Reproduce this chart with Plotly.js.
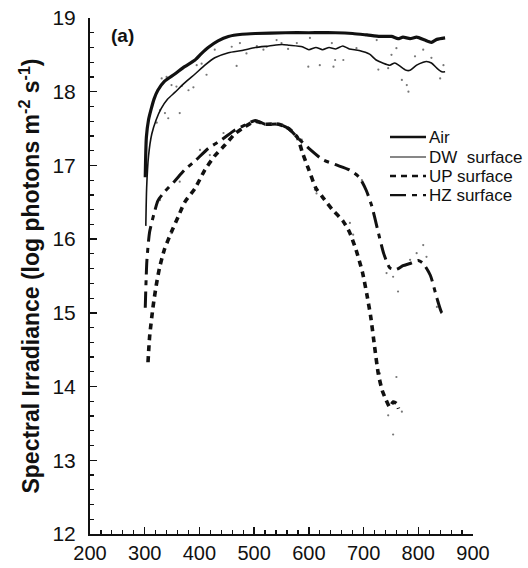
<!DOCTYPE html>
<html>
<head>
<meta charset="utf-8">
<script src="https://cdn.plot.ly/plotly-3.0.1.min.js"></script>
<style>html,body{margin:0;padding:0;background:#fff;}#chart{width:528px;height:568px;}</style>
</head>
<body>
<div id="chart"></div>
<script>
// ---- data (wavelength nm, log photons m-2 s-1) ----
var seriesNames = ["Air", "DW  surface", "UP surface", "HZ surface"];

var airX = [301, 303, 307, 312, 317, 324, 336, 355, 373, 392, 404, 416, 434, 453, 478, 502, 557, 600, 649, 680, 706, 730, 751, 763, 772, 785, 797, 812, 824, 834, 849];
var airY = [16.84, 17.38, 17.62, 17.77, 17.9, 18.02, 18.14, 18.24, 18.34, 18.43, 18.52, 18.6, 18.69, 18.75, 18.78, 18.79, 18.80, 18.80, 18.80, 18.79, 18.77, 18.75, 18.75, 18.72, 18.74, 18.72, 18.74, 18.70, 18.67, 18.71, 18.73];

var dwX = [302, 303.5, 307, 313, 321, 330, 342, 355, 373, 392, 410, 428, 453, 478, 502, 527, 551, 564, 588, 600, 613, 625, 637, 649, 662, 674, 692, 711, 723, 735, 748, 757, 766, 778, 785, 797, 809, 815, 824, 834, 843, 849];
var dwY = [16.18, 16.69, 17.13, 17.43, 17.62, 17.77, 17.9, 17.99, 18.12, 18.24, 18.36, 18.46, 18.53, 18.56, 18.6, 18.62, 18.64, 18.63, 18.61, 18.57, 18.6, 18.57, 18.6, 18.58, 18.62, 18.58, 18.56, 18.51, 18.43, 18.39, 18.36, 18.39, 18.35, 18.29, 18.29, 18.36, 18.4, 18.41, 18.39, 18.32, 18.27, 18.27];

var upX = [306, 309, 315, 321, 327, 336, 349, 361, 373, 392, 410, 428, 447, 465, 484, 502, 520, 545, 563, 579, 588, 600, 613, 625, 643, 662, 674, 686, 698, 706, 713, 720, 727, 734, 741, 748, 754, 760, 764];
var upY = [14.33, 14.68, 15.07, 15.37, 15.61, 15.86, 16.10, 16.30, 16.5, 16.69, 16.94, 17.13, 17.28, 17.43, 17.53, 17.6, 17.56, 17.56, 17.5, 17.38, 17.18, 16.94, 16.69, 16.57, 16.40, 16.25, 16.10, 15.86, 15.55, 15.25, 14.95, 14.55, 14.17, 13.95, 13.82, 13.72, 13.79, 13.77, 13.70];

var hzX = [301, 304, 309, 319, 324, 336, 355, 373, 392, 416, 441, 465, 484, 502, 520, 545, 563, 579, 600, 625, 649, 674, 692, 705, 715, 725, 737, 748, 760, 772, 785, 800, 809, 822, 834, 843, 849];
var hzY = [15.07, 15.71, 16.1, 16.40, 16.52, 16.64, 16.79, 16.94, 17.06, 17.23, 17.35, 17.48, 17.55, 17.61, 17.56, 17.56, 17.50, 17.38, 17.23, 17.08, 17.01, 16.94, 16.84, 16.66, 16.45, 16.15, 15.8, 15.61, 15.59, 15.64, 15.67, 15.71, 15.67, 15.51, 15.2, 15.0, 14.97];

// individual measured points scattered around the curves
var dotX = [331, 340, 349, 358, 368, 380, 389, 395, 404, 413, 428, 459, 468, 474, 486, 505, 517, 523, 541, 550, 562, 578, 599, 328, 337, 343, 364, 322,
            602, 642, 645, 663, 687, 724, 727, 745, 751, 760, 770, 779, 782, 794, 809, 824, 840, 846, 620, 648,
            328, 364, 401, 444, 498, 541, 419, 349, 614,
            587, 611, 675, 681, 697, 742, 754, 763, 785, 797, 809, 815, 834, 760, 745, 770, 730, 754];
var dotY = [18.18, 18.2, 18.09, 18.07, 18.08, 18.02, 18.06, 18.36, 18.38, 18.23, 18.57, 18.61, 18.35, 18.66, 18.52, 18.62, 18.57, 18.61, 18.70, 18.66, 18.58, 18.66, 18.34, 17.75, 17.71, 17.64, 17.71, 17.58,
            18.73, 18.66, 18.34, 18.43, 18.59, 18.70, 18.30, 18.32, 18.50, 18.59, 18.16, 18.09, 18.0, 18.48, 18.57, 18.46, 18.18, 18.36, 18.36, 18.43,
            16.53, 16.78, 17.21, 17.44, 17.6, 17.55, 17.14, 16.08, 16.62,
            17.35, 16.67, 16.22, 16.06, 16.80, 15.54, 15.49, 15.29, 15.72, 15.81, 15.92, 15.76, 15.08, 14.13, 13.61, 13.66, 14.18, 13.35];

var xTickVals = [200, 300, 400, 500, 600, 700, 800, 900];
var yTickVals = [12, 13, 14, 15, 16, 17, 18, 19];

// ---- styles ----
var FONT = "Liberation Sans, Arial, Helvetica, sans-serif";
var styles = [
  {width: 3.2, dash: "solid", color: "#111"},
  {width: 1.6, dash: "solid", color: "#111"},
  {width: 3.6, dash: "6px,5px", color: "#111"},
  {width: 3.0, dash: "16px,6px,5px,6px", color: "#111"}
];
var xs = [airX, dwX, upX, hzX];
var ys = [airY, dwY, upY, hzY];

var traces = [{
  x: dotX, y: dotY, type: "scatter", mode: "markers",
  marker: {size: 2.2, color: "#777"}, showlegend: false, hoverinfo: "skip"
}];
for (var i = 0; i < 4; i++) {
  traces.push({
    x: xs[i], y: ys[i], name: seriesNames[i], type: "scatter", mode: "lines",
    line: {width: styles[i].width, dash: styles[i].dash, color: styles[i].color, shape: "spline", smoothing: 0.6},
    showlegend: false
  });
}

var W = 528, H = 568, M = {l: 90, r: 55, t: 18, b: 34};
function px(x) { return (x - M.l) / (W - M.l - M.r); }
function py(y) { return (H - M.b - y) / (H - M.t - M.b); }

var shapes = [], annotations = [];
var legY = [137, 157, 176, 195];
for (var k = 0; k < 4; k++) {
  shapes.push({type: "line", xref: "paper", yref: "paper",
    x0: px(390), x1: px(426), y0: py(legY[k]), y1: py(legY[k]),
    line: {width: styles[k].width * 0.75, dash: styles[k].dash, color: "#111"}});
  annotations.push({xref: "paper", yref: "paper", x: px(427), y: py(legY[k]),
    xanchor: "left", yanchor: "middle", showarrow: false, text: seriesNames[k],
    font: {family: FONT, size: 17, color: "#111"}});
}
annotations.push({xref: "paper", yref: "paper", x: px(109), y: py(36), xanchor: "left", yanchor: "middle",
  showarrow: false, text: "<b>(a)</b>", font: {family: FONT, size: 19, color: "#111"}});

var axisCommon = {
  showline: true, linewidth: 2, linecolor: "#111", showgrid: false, zeroline: false,
  ticks: "inside", ticklen: 7, tickwidth: 1.5, tickcolor: "#111",
  tickfont: {family: FONT, size: 21, color: "#111"}
};

var layout = {
  width: W, height: H, margin: M,
  paper_bgcolor: "#fff", plot_bgcolor: "#fff",
  font: {family: FONT, color: "#111"},
  showlegend: false,
  xaxis: Object.assign({}, axisCommon, {
    range: [200, 900], tickmode: "array", tickvals: xTickVals, ticktext: xTickVals.map(String),
    ticklabelstandoff: 0, tickfont: {family: FONT, size: 20, color: "#111"},
    minor: {dtick: 20, ticks: "inside", ticklen: 4, tickwidth: 1.2, tickcolor: "#111"}
  }),
  yaxis: Object.assign({}, axisCommon, {
    range: [12, 19], tickmode: "array", tickvals: yTickVals, ticktext: yTickVals.map(String),
    ticklabelstandoff: 8,
    minor: {dtick: 0.2, ticks: "inside", ticklen: 4, tickwidth: 1.2, tickcolor: "#111"},
    title: {text: "<b>Spectral Irradiance (log photons m<sup>-2</sup> s<sup>-1</sup>)</b>",
      font: {family: FONT, size: 23, color: "#111"}, standoff: 6}
  }),
  shapes: shapes,
  annotations: annotations
};

Plotly.newPlot("chart", traces, layout, {staticPlot: true, displayModeBar: false});
</script>
</body>
</html>
